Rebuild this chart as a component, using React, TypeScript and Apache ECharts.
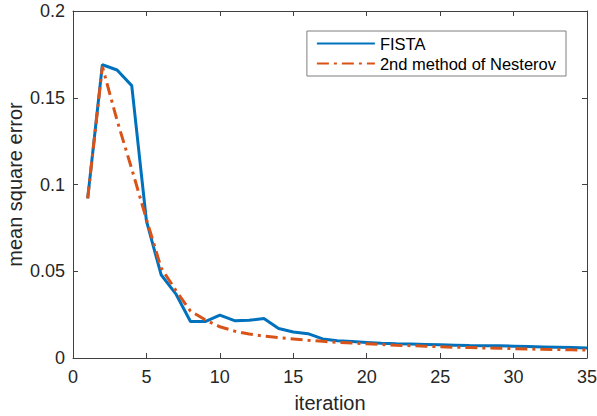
import React, { useEffect, useRef } from "react";
import * as echarts from "echarts";

const iterations = [1,2,3,4,5,6,7,8,9,10,11,12,13,14,15,16,17,18,19,20,21,22,23,24,25,26,27,28,29,30,31,32,33,34,35];
const fista = [0.092,0.169,0.166,0.157,0.079,0.048,0.037,0.021,0.021,0.0247,0.0215,0.0217,0.0228,0.017,0.015,0.014,0.011,0.010,0.0095,0.009,0.0085,0.0082,0.008,0.0078,0.0076,0.0074,0.0072,0.0071,0.007,0.0068,0.0066,0.0064,0.0062,0.006,0.0057];
const nesterov = [0.092,0.168,0.137,0.109,0.080,0.052,0.039,0.027,0.022,0.018,0.0155,0.0138,0.0126,0.0117,0.011,0.0102,0.0096,0.009,0.0086,0.0082,0.0078,0.0074,0.0071,0.0068,0.0065,0.0062,0.006,0.0058,0.0056,0.0054,0.0052,0.005,0.0049,0.0047,0.0046];
const seriesNames = ["FISTA", "2nd method of Nesterov"];
const xTitle = "iteration";
const yTitle = "mean square error";

export default function App() {
  const ref = useRef<HTMLDivElement>(null);
  useEffect(() => {
    const chart = echarts.init(ref.current!, null, { renderer: "svg" });
    const axisColor = "#262626";
    const font = "Liberation Sans, Arial, sans-serif";
    const baseAxis = {
      axisLine: { show: true, onZero: false, lineStyle: { color: "#404040", width: 1 } },
      axisTick: { show: true, inside: true, length: 5, lineStyle: { color: "#404040" } },
      splitLine: { show: false },
    };
    chart.setOption({
      animation: false,
      backgroundColor: "#fff",
      grid: { left: 73, right: 10, top: 11, bottom: 58, containLabel: false, outerBoundsMode: "none" },
      legend: {
        right: 31,
        top: 31,
        orient: "vertical",
        backgroundColor: "#fff",
        borderColor: "#7f7f7f",
        borderWidth: 1,
        padding: [4, 10, 4, 9],
        itemGap: 3,
        itemWidth: 58,
        itemHeight: 14,
        itemStyle: { opacity: 0 },
        textStyle: { fontFamily: font, fontSize: 16.5, color: "#000" },
        data: seriesNames,
      },
      xAxis: [
        {
          type: "value", min: 0, max: 35, interval: 5, ...baseAxis,
          name: xTitle, nameLocation: "middle", nameGap: 35, nameMoveOverlap: false,
          nameTextStyle: { fontFamily: font, fontSize: 20, color: axisColor },
          axisLabel: { fontFamily: font, fontSize: 18, color: axisColor, margin: 10 },
        },
        {
          type: "value", position: "top", min: 0, max: 35, interval: 5, ...baseAxis,
          axisLabel: { show: false },
        },
      ],
      yAxis: [
        {
          type: "value", min: 0, max: 0.2, interval: 0.05, ...baseAxis,
          name: yTitle, nameLocation: "middle", nameGap: 48, nameMoveOverlap: false,
          nameTextStyle: { fontFamily: font, fontSize: 20, color: axisColor },
          axisLabel: { fontFamily: font, fontSize: 18, color: axisColor, margin: 8 },
        },
        {
          type: "value", position: "right", min: 0, max: 0.2, interval: 0.05, ...baseAxis,
          axisLabel: { show: false },
        },
      ],
      series: [
        {
          name: seriesNames[0], type: "line", showSymbol: false, symbol: "none",
          data: iterations.map((x, i) => [x, fista[i]]),
          lineStyle: { color: "#0072BD", width: 3 },
          itemStyle: { color: "#0072BD" },
        },
        {
          name: seriesNames[1], type: "line", showSymbol: false, symbol: "none",
          data: iterations.map((x, i) => [x, nesterov[i]]),
          lineStyle: { color: "#D95319", width: 3, type: [12, 5, 3, 5] },
          itemStyle: { color: "#D95319" },
        },
      ],
    });
    return () => chart.dispose();
  }, []);
  return <div ref={ref} style={{ width: 597, height: 416, position: "absolute", left: 0, top: 0 }} />;
}
